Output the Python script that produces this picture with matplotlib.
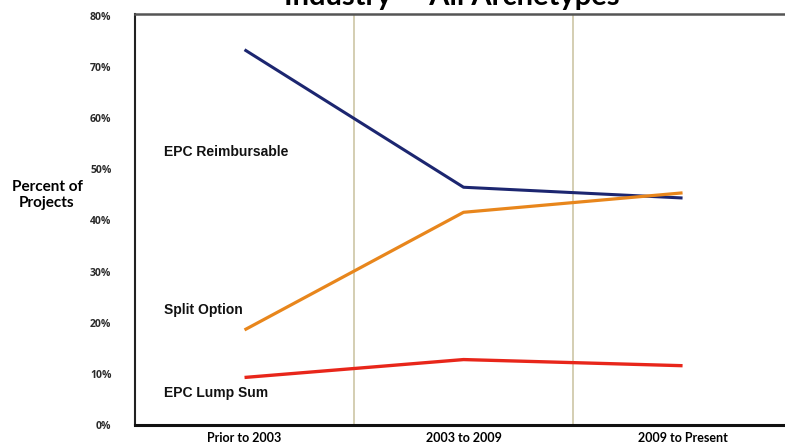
import matplotlib
matplotlib.use("Agg")
import matplotlib.pyplot as plt

# periods on the x axis
periods = ["Prior to 2003", "2003 to 2009", "2009 to Present"]

# percent of projects per contracting option
reimbursable = [73.4, 46.5, 44.4]
split_option = [18.6, 41.6, 45.4]
lump_sum = [9.3, 12.8, 11.6]

y_ticks = [0, 10, 20, 30, 40, 50, 60, 70, 80]
y_labels = ["0%", "10%", "20%", "30%", "40%", "50%", "60%", "70%", "80%"]

fig = plt.figure(figsize=(7.85, 4.43), dpi=100)
ax = fig.add_axes([0.172, 0.0406, 0.837, 0.928])

x = range(len(periods))
ax.plot(x, reimbursable, color="#1c2670", lw=2.2, solid_capstyle="butt")
ax.plot(x, split_option, color="#e8861c", lw=2.3, solid_capstyle="butt")
ax.plot(x, lump_sum, color="#e8261a", lw=2.4, solid_capstyle="butt")

# boundaries between periods
for b in [0.5, 1.5]:
    ax.axvline(b, color="#cdc6a6", lw=1.2, zorder=0)

ax.set_xlim(-0.5, 2.5)
ax.set_ylim(0, 80.4)
ax.set_xticks(list(x))
ax.set_xticklabels(periods, fontsize=9, fontweight="bold", family="Lato")
ax.set_yticks(y_ticks)
ax.set_yticklabels(y_labels, fontsize=7.5, fontweight="bold", color="#2a2a2a",
                   family="Open Sans")
ax.tick_params(axis="both", length=0)
ax.tick_params(axis="y", pad=17)
ax.tick_params(axis="x", pad=5)

ax.spines["left"].set_color("#222222")
ax.spines["left"].set_linewidth(1.5)
ax.spines["bottom"].set_color("#111111")
ax.spines["bottom"].set_linewidth(2.2)
ax.spines["top"].set_color("#555555")
ax.spines["top"].set_linewidth(1.8)
ax.spines["right"].set_visible(False)

# series labels inside the plot
lab = dict(fontsize=10, fontweight="bold", family="Liberation Sans", color="#111111",
           va="center", ha="left")
ax.text(-0.366, 53.4, "EPC Reimbursable", **lab)
ax.text(-0.366, 22.5, "Split Option", **lab)
ax.text(-0.366, 6.3, "EPC Lump Sum", **lab)

fig.text(47 / 785, 1 - 195 / 443, "Percent of\nProjects", fontsize=11, fontweight="bold",
         family="Lato", ha="center", va="center", linespacing=1.15)

# title, mostly cut off by the top edge as in the source image
fig.text(452 / 785, 1 - 5 / 443, "Industry \u2014 All Archetypes", fontsize=21,
         fontweight="bold", family="Lato", ha="center", va="baseline")

fig.savefig("out.png", dpi=100)
